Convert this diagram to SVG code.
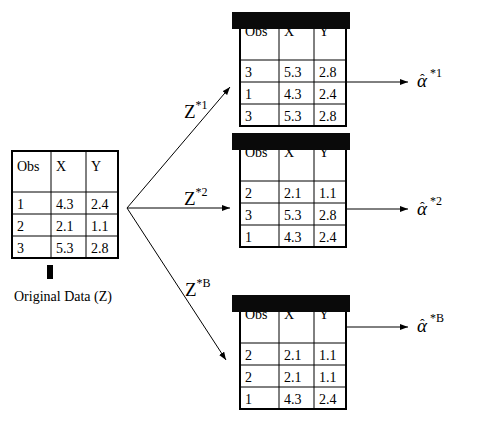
<svg xmlns="http://www.w3.org/2000/svg" width="488" height="436" viewBox="0 0 488 436">
<style>
text{font-family:"Liberation Serif","Times New Roman",serif;fill:#000}
.t{font-size:14px}
.ob{fill:none;stroke:#000;stroke-width:2}
.il{stroke:#000;stroke-width:1}
.bar{fill:#0a0a0a}
.cn{stroke:#000;stroke-width:1;fill:none}
.z{font-size:19px}
.zs{font-size:12px}
.a{font-size:19px;font-style:italic}
.ah{font-size:14px;font-style:normal}
.as{font-size:12px;font-style:normal}
</style>
<defs>
<marker id="ah" viewBox="0 0 8 6" refX="8" refY="3" markerWidth="8" markerHeight="6" orient="auto" markerUnits="userSpaceOnUse">
<path d="M0,0 L8,3 L0,6 z" fill="#000"/>
</marker>
<g id="grid">
<rect class="ob" x="0" y="0" width="106" height="107"/>
<line class="il" x1="39" y1="0" x2="39" y2="107"/>
<line class="il" x1="74" y1="0" x2="74" y2="107"/>
<line class="il" x1="0" y1="41" x2="106" y2="41"/>
<line class="il" x1="0" y1="63" x2="106" y2="63"/>
<line class="il" x1="0" y1="85" x2="106" y2="85"/>
</g>
</defs>

<g id="original">
<g transform="translate(12,151)">
<use href="#grid"/>
<text class="t" x="5" y="20">Obs</text><text class="t" x="44" y="20">X</text><text class="t" x="79" y="20">Y</text>
<text class="t" x="5" y="58">1</text><text class="t" x="44" y="58">4.3</text><text class="t" x="79" y="58">2.4</text>
<text class="t" x="5" y="80">2</text><text class="t" x="44" y="80">2.1</text><text class="t" x="79" y="80">1.1</text>
<text class="t" x="5" y="102">3</text><text class="t" x="44" y="102">5.3</text><text class="t" x="79" y="102">2.8</text>
</g>
<rect x="47" y="265" width="6" height="14" fill="#000"/>
<text class="t" x="14" y="301">Original Data (Z)</text>
</g>

<g id="sample1">
<g transform="translate(240,19)">
<use href="#grid"/>
<text class="t" x="5" y="17">Obs</text><text class="t" x="44" y="17">X</text><text class="t" x="79" y="17">Y</text>
<text class="t" x="5" y="58">3</text><text class="t" x="44" y="58">5.3</text><text class="t" x="79" y="58">2.8</text>
<text class="t" x="5" y="80">1</text><text class="t" x="44" y="80">4.3</text><text class="t" x="79" y="80">2.4</text>
<text class="t" x="5" y="102">3</text><text class="t" x="44" y="102">5.3</text><text class="t" x="79" y="102">2.8</text>
</g>
<rect class="bar" x="232" y="12" width="118" height="17"/>
</g>

<g id="sample2">
<g transform="translate(240,140)">
<use href="#grid"/>
<text class="t" x="5" y="17">Obs</text><text class="t" x="44" y="17">X</text><text class="t" x="79" y="17">Y</text>
<text class="t" x="5" y="58">2</text><text class="t" x="44" y="58">2.1</text><text class="t" x="79" y="58">1.1</text>
<text class="t" x="5" y="80">3</text><text class="t" x="44" y="80">5.3</text><text class="t" x="79" y="80">2.8</text>
<text class="t" x="5" y="102">1</text><text class="t" x="44" y="102">4.3</text><text class="t" x="79" y="102">2.4</text>
</g>
<rect class="bar" x="232" y="133" width="118" height="17"/>
</g>

<g id="sampleB">
<g transform="translate(240,302)">
<use href="#grid"/>
<text class="t" x="5" y="17">Obs</text><text class="t" x="44" y="17">X</text><text class="t" x="79" y="17">Y</text>
<text class="t" x="5" y="58">2</text><text class="t" x="44" y="58">2.1</text><text class="t" x="79" y="58">1.1</text>
<text class="t" x="5" y="80">2</text><text class="t" x="44" y="80">2.1</text><text class="t" x="79" y="80">1.1</text>
<text class="t" x="5" y="102">1</text><text class="t" x="44" y="102">4.3</text><text class="t" x="79" y="102">2.4</text>
</g>
<rect class="bar" x="232" y="295" width="118" height="17"/>
</g>

<g id="connectors">
<line class="cn" x1="127" y1="208" x2="230" y2="87" marker-end="url(#ah)"/>
<line class="cn" x1="127" y1="208" x2="230" y2="208" marker-end="url(#ah)"/>
<line class="cn" x1="127" y1="208" x2="226" y2="360" marker-end="url(#ah)"/>
<line class="cn" x1="347" y1="82" x2="408" y2="82" marker-end="url(#ah)"/>
<line class="cn" x1="347" y1="209" x2="408" y2="209" marker-end="url(#ah)"/>
<line class="cn" x1="347" y1="327" x2="408" y2="327" marker-end="url(#ah)"/>
<text class="z" x="184" y="118">Z<tspan class="zs" dy="-9">*1</tspan></text>
<text class="z" x="184" y="205">Z<tspan class="zs" dy="-9">*2</tspan></text>
<text class="z" x="185" y="296">Z<tspan class="zs" dy="-9">*B</tspan></text>
</g>

<g id="alpha1">
<text class="a" x="417" y="87">α<tspan class="ah" x="420" y="84">ˆ</tspan><tspan class="as" x="430" y="77">*1</tspan></text>
</g>
<g id="alpha2">
<text class="a" x="417" y="215">α<tspan class="ah" x="420" y="212">ˆ</tspan><tspan class="as" x="430" y="205">*2</tspan></text>
</g>
<g id="alphaB">
<text class="a" x="417" y="332">α<tspan class="ah" x="420" y="329">ˆ</tspan><tspan class="as" x="430" y="322" font-style="italic">*B</tspan></text>
</g>
</svg>
